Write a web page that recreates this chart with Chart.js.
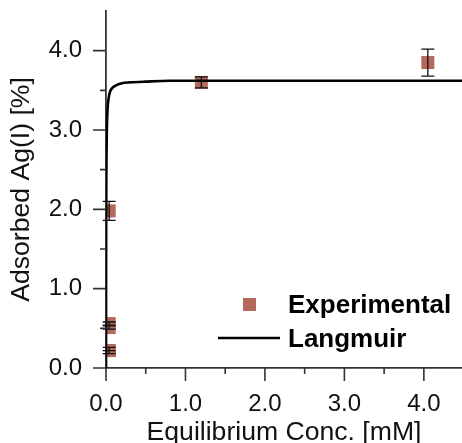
<!DOCTYPE html>
<html>
<head>
<meta charset="utf-8">
<script src="https://cdn.jsdelivr.net/npm/chart.js@4.4.1/dist/chart.umd.min.js"></script>
<style>
  html, body { margin: 0; padding: 0; background: #fff; }
  #wrap { width: 462px; height: 443px; position: relative; }
</style>
</head>
<body>
<div id="wrap"><canvas id="c" width="462" height="443"></canvas></div>
<script>
// ---- data ----
const expX   = [0.04, 0.04, 0.04, 0.04, 0.04, 1.20, 4.05];
const expY   = [0.22, 0.22, 0.51, 0.56, 1.98, 3.60, 3.85];
const expErr = [0.04, 0.00, 0.02, 0.02, 0.12, 0.07, 0.17];

const fitX = [0, 0.001, 0.002, 0.004, 0.006, 0.01, 0.015, 0.02, 0.03, 0.05, 0.08, 0.12, 0.2, 0.3, 0.5, 0.8, 1.2, 2.0, 3.0, 4.0, 4.48];
const fitY = [0, 1.13, 1.72, 2.33, 2.65, 2.97, 3.16, 3.27, 3.38, 3.48, 3.53, 3.56, 3.59, 3.60, 3.61, 3.62, 3.62, 3.62, 3.62, 3.62, 3.62];

const xTicks = [0, 0.5, 1.0, 1.5, 2.0, 2.5, 3.0, 3.5, 4.0];
const yTicks = [0, 0.5, 1.0, 1.5, 2.0, 2.5, 3.0, 3.5, 4.0];
const seriesNames = ['Experimental', 'Langmuir'];
const xTitle = 'Equilibrium Conc. [mM]';
const yTitle = 'Adsorbed Ag(I) [%]';

const markerColor = '#b3695c';
const axisColor = '#333333';
const FONT = "'Liberation Sans', Arial, Helvetica, sans-serif";

const isMajor = v => Math.abs(v - Math.round(v)) < 1e-9;

// error bars drawn through the scales
const errorBars = {
  id: 'errorBars',
  afterDatasetsDraw(chart) {
    const ctx = chart.ctx, xs = chart.scales.x, ys = chart.scales.y;
    ctx.save();
    ctx.strokeStyle = '#111';
    ctx.lineWidth = 1.3;
    const cap = 6.5;
    expX.forEach((xv, i) => {
      const px = xs.getPixelForValue(xv);
      const pt = ys.getPixelForValue(expY[i] + expErr[i]);
      const pb = ys.getPixelForValue(expY[i] - expErr[i]);
      ctx.beginPath();
      ctx.moveTo(px, pt); ctx.lineTo(px, pb);
      ctx.moveTo(px - cap, pt); ctx.lineTo(px + cap, pt);
      ctx.moveTo(px - cap, pb); ctx.lineTo(px + cap, pb);
      ctx.stroke();
    });
    ctx.restore();
  }
};

// outward tick marks (major long, minor short)
const tickMarks = {
  id: 'tickMarks',
  afterDraw(chart) {
    const ctx = chart.ctx, xs = chart.scales.x, ys = chart.scales.y;
    const area = chart.chartArea;
    ctx.save();
    ctx.strokeStyle = axisColor;
    ctx.lineWidth = 1.6;
    ctx.beginPath();
    xTicks.forEach(v => {
      const px = xs.getPixelForValue(v);
      const len = isMajor(v) ? 13 : 6;
      ctx.moveTo(px, area.bottom); ctx.lineTo(px, area.bottom + len);
    });
    yTicks.forEach(v => {
      const py = ys.getPixelForValue(v);
      const len = isMajor(v) ? 13 : 6;
      ctx.moveTo(area.left, py); ctx.lineTo(area.left - len, py);
    });
    ctx.stroke();
    ctx.restore();
  }
};

// in-plot legend
const innerLegend = {
  id: 'innerLegend',
  afterDraw(chart) {
    const ctx = chart.ctx, a = chart.chartArea;
    ctx.save();
    const mx = a.left + 143.5, my = a.top + 293.5, s = 13;
    ctx.fillStyle = markerColor;
    ctx.fillRect(mx - s / 2, my - s / 2, s, s);
    ctx.strokeStyle = '#000';
    ctx.lineWidth = 2.5;
    ctx.beginPath();
    ctx.moveTo(a.left + 112, a.top + 327);
    ctx.lineTo(a.left + 174, a.top + 327);
    ctx.stroke();
    ctx.fillStyle = '#000';
    ctx.font = 'bold 26px ' + FONT;
    ctx.textBaseline = 'alphabetic';
    ctx.textAlign = 'left';
    ctx.fillText(seriesNames[0], a.left + 182, a.top + 302);
    ctx.fillText(seriesNames[1], a.left + 182, a.top + 336);
    ctx.restore();
  }
};

const noPad = s => { s.paddingTop = 0; s.paddingBottom = 0; s.paddingLeft = 0; s.paddingRight = 0; };

new Chart(document.getElementById('c'), {
  type: 'scatter',
  data: {
    datasets: [
      {
        label: seriesNames[1],
        data: fitX.map((x, i) => ({ x, y: fitY[i] })),
        showLine: true,
        borderColor: '#000',
        borderWidth: 2.6,
        pointRadius: 0,
        cubicInterpolationMode: 'monotone',
        order: 0
      },
      {
        label: seriesNames[0],
        data: expX.map((x, i) => ({ x, y: expY[i] })),
        pointStyle: 'rect',
        pointRadius: 9.2,
        pointBackgroundColor: markerColor,
        pointBorderWidth: 0,
        showLine: false,
        order: 1
      }
    ]
  },
  options: {
    responsive: false,
    animation: false,
    devicePixelRatio: 1,
    layout: { autoPadding: false, padding: { top: 11, right: 0, left: 0, bottom: 0 } },
    plugins: { legend: { display: false }, tooltip: { enabled: false } },
    scales: {
      x: {
        type: 'linear',
        min: 0, max: 4.48,
        afterBuildTicks: s => { s.ticks = xTicks.map(v => ({ value: v })); },
        afterFit: s => { s.height = 75; noPad(s); },
        grid: { display: false, drawTicks: false },
        border: { display: true, color: axisColor, width: 1.8 },
        ticks: {
          autoSkip: false, maxRotation: 0, padding: 22,
          color: '#111',
          font: { family: FONT, size: 24 },
          callback: v => isMajor(v) ? Number(v).toFixed(1) : ''
        },
        title: {
          display: true, text: xTitle, color: '#111',
          font: { family: FONT, size: 26.6, lineHeight: 0.8 },
          padding: { top: 0, bottom: 0 }
        }
      },
      y: {
        type: 'linear',
        min: 0, max: 4.5,
        afterBuildTicks: s => { s.ticks = yTicks.map(v => ({ value: v })); },
        afterFit: s => { s.width = 106; noPad(s); },
        grid: { display: false, drawTicks: false },
        border: { display: true, color: axisColor, width: 1.8 },
        ticks: {
          autoSkip: false, padding: 24,
          color: '#111',
          font: { family: FONT, size: 24 },
          callback: v => isMajor(v) ? Number(v).toFixed(1) : ''
        },
        title: {
          display: true, text: yTitle, color: '#111',
          font: { family: FONT, size: 26.6, lineHeight: 1 },
          padding: { top: 8.3, bottom: 0 }
        }
      }
    }
  },
  plugins: [errorBars, tickMarks, innerLegend]
});
</script>
</body>
</html>
